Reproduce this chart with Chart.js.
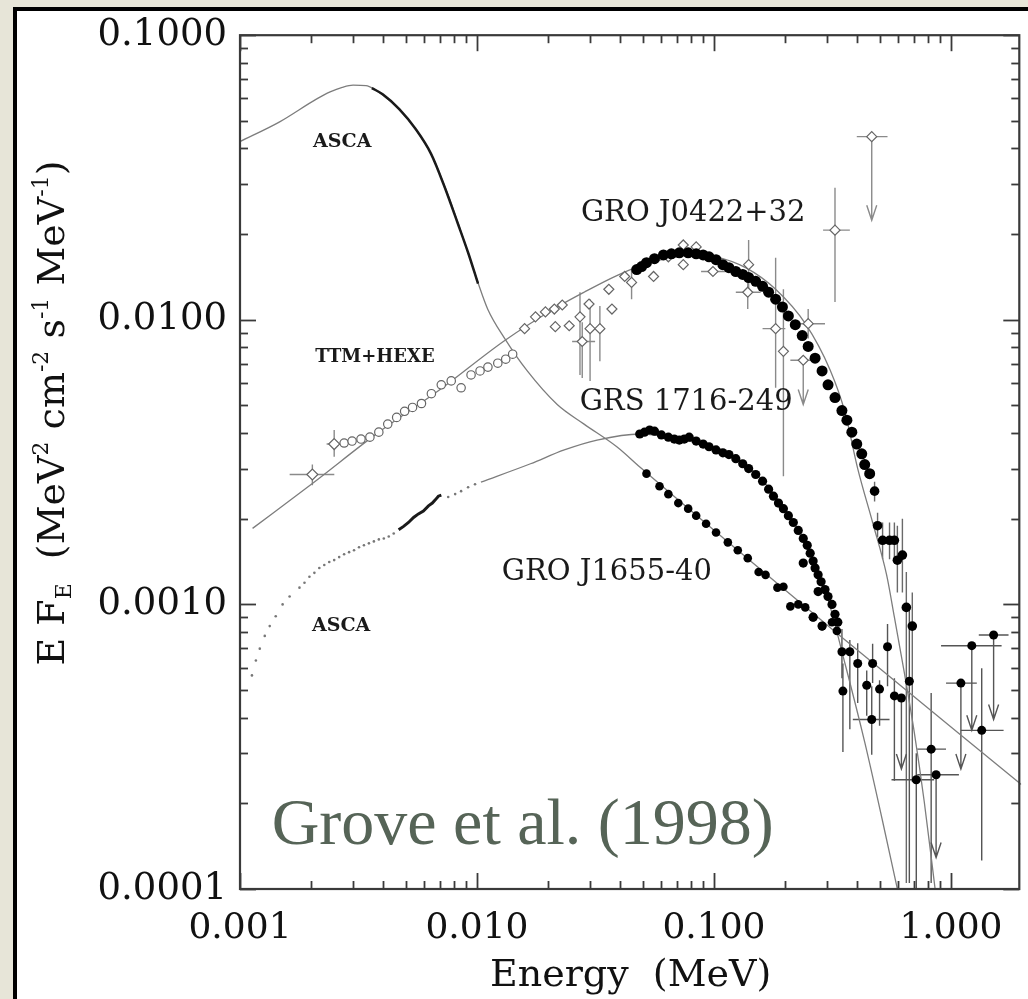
<!DOCTYPE html>
<html><head><meta charset="utf-8">
<script src="https://cdn.jsdelivr.net/npm/chart.js@4.4.0/dist/chart.umd.min.js"></script>
<style>
html,body{margin:0;padding:0;width:1028px;height:999px;overflow:hidden;background:#e7e5d8;}
#frame{position:absolute;left:13px;top:7px;width:1100px;height:1100px;border-left:4px solid #000;border-top:4px solid #000;background:#fff;}
#wrap{position:absolute;left:0;top:0;width:1028px;height:999px;}
</style></head><body>
<div id="frame"></div>
<div id="wrap"><canvas id="c" width="1028" height="999"></canvas></div>
<script>
// ---------- axis ticks ----------
const xTickValues = [0.001, 0.01, 0.1, 1];
const xTickLabels = ['0.001', '0.010', '0.100', '1.000'];
const yTickValues = [0.0001, 0.001, 0.01, 0.1];
const yTickLabels = ['0.0001', '0.0010', '0.0100', '0.1000'];

// ---------- model curves ----------
const modelJ1655E = [0.001,0.00147,0.0021,0.0024,0.0027,0.0030,0.0034,0.0037,0.00396,0.00467,0.0055,0.00642,0.00735,0.00833,0.00917,0.0101,0.0111,0.0131,0.0163,0.0218,0.0283,0.0389,0.0495,0.333,1.98];
const modelJ1655F = [0.0423,0.0496,0.0596,0.0632,0.0656,0.0668,0.0665,0.0645,0.0620,0.0550,0.0469,0.0381,0.0291,0.0218,0.0172,0.0135,0.0109,0.00859,0.00661,0.00504,0.0043,0.00358,0.0030,0.000787,0.000233];
const modelJ0422E = [0.00113,0.00202,0.00385,0.00687,0.0131,0.0218,0.0283,0.0389,0.0519,0.0693,0.0841,0.102,0.136,0.182,0.243,0.309,0.357,0.404,0.467,0.535,0.577,0.636,0.700,0.771,0.857];
const modelJ0422F = [0.00185,0.00266,0.00403,0.00563,0.00846,0.01109,0.0125,0.0143,0.01575,0.01665,0.0169,0.01665,0.01525,0.0128,0.00969,0.00666,0.00473,0.0030,0.00194,0.00127,0.000902,0.000573,0.000355,0.000203,0.0001];
const modelGrsE = [0.01039,0.01682,0.02335,0.0321,0.0486,0.0714,0.1122,0.1543,0.2203,0.294,0.357,0.4325,0.5145,0.594];
const modelGrsF = [0.00269,0.00312,0.00349,0.00378,0.00397,0.00381,0.00344,0.00282,0.00189,0.001127,0.00062,0.000328,0.000173,0.0001];

// ---------- ASCA data ----------
const ascaJ1655E = [0.0036,0.0040,0.0047,0.0055,0.0064,0.0073,0.0083,0.0092,0.0101];
const ascaJ1655F = [0.0652,0.0620,0.0550,0.0469,0.0383,0.0293,0.0218,0.0171,0.0134];
const ascaGrsE = [0.001123,0.001167,0.001212,0.001272,0.001335,0.001415,0.001513,0.001619,0.001782,0.001871,0.001963,0.00206,0.002161,0.002268,0.00238,0.002497,0.002621,0.00275,0.002886,0.003028,0.003178,0.003334,0.003499,0.003672,0.003853,0.004044,0.004243,0.004453,0.00756,0.00809,0.00857,0.00917,0.00981];
const ascaGrsF = [0.000563,0.000635,0.000699,0.000775,0.000839,0.000909,0.001,0.001066,0.001145,0.001192,0.00125,0.001291,0.001343,0.001375,0.001409,0.001431,0.001466,0.001501,0.001526,0.00155,0.001588,0.001613,0.001639,0.001665,0.001692,0.001705,0.001733,0.001774,0.002384,0.002441,0.0025,0.002581,0.002643];
const ascaGrsDenseE = [0.00467,0.0049,0.00514,0.0054,0.00566,0.00594,0.00624,0.00648,0.00667,0.00687,0.00707];
const ascaGrsDenseF = [0.00183,0.00188,0.00194,0.00202,0.00208,0.00213,0.00222,0.00227,0.00233,0.0024,0.00242];

// ---------- GRO J0422+32 : TTM+HEXE (open) ----------
const ttmE = [0.00202,0.002497,0.00275,0.002971,0.00324,0.003533,0.003853,0.004202,0.004582,0.00495,0.005346,0.005831,0.00642,0.007068,0.007785,0.00857,0.009439,0.0103,0.01112,0.01224,0.01322,0.01414];
const ttmF = [0.00286,0.00366,0.00369,0.00375,0.00381,0.00387,0.00403,0.0043,0.00454,0.00477,0.00492,0.00508,0.0055,0.00591,0.0061,0.00577,0.0064,0.00661,0.00682,0.00704,0.00727,0.00757];
const ttmXLo = [0.00162,0.00232,null,null,null,null,null,null,null,null,null,null,null,null,null,null,null,null,null,null,null,null];
const ttmXHi = [0.0025,0.00268,null,null,null,null,null,null,null,null,null,null,null,null,null,null,null,null,null,null,null,null];
const ttmYLo = [0.00262,0.0033,null,null,null,null,null,null,null,null,null,null,null,null,null,null,null,null,null,null,null,null];
const ttmYHi = [0.0031,0.0041,null,null,null,null,null,null,null,null,null,null,null,null,null,null,null,null,null,null,null,null];

// ---------- GRO J0422+32 : higher energy (open diamonds) ----------
const osseE = [0.01588,0.01765,0.01944,0.0212,0.0229,0.0214,0.0245,0.0272,0.0297,0.0300,0.0330,0.0278,0.0360,0.0371,0.0420,0.0449,0.0556,0.0642,0.0742,0.0841,0.0742,0.0990,0.140,0.1388,0.182,0.1963,0.2497,0.238,0.324,0.463];
const osseF = [0.00931,0.01024,0.01066,0.01091,0.01127,0.00946,0.00953,0.01024,0.01136,0.00931,0.00931,0.00839,0.0128,0.01091,0.0142,0.01353,0.0142,0.01665,0.01832,0.01803,0.01562,0.01478,0.01562,0.0125,0.00931,0.00775,0.00969,0.00721,0.02065,0.044];
const osseXLo = [null,null,null,null,null,null,null,null,null,null,null,0.0252,null,null,null,null,null,null,null,null,null,0.0882,null,0.1236,0.1603,null,0.2203,0.21,0.2886,0.4004];
const osseXHi = [null,null,null,null,null,null,null,null,null,null,null,0.0315,null,null,null,null,null,null,null,null,null,0.1122,null,0.1573,0.200,null,0.294,0.267,0.3743,0.5398];
const osseYLo = [null,null,null,null,null,null,null,0.0064,null,0.0061,0.00715,0.00625,null,null,null,0.01182,null,null,null,null,null,null,0.0125,0.01091,0.00577,0.00282,0.0086,0.00504,0.01154,0.02236];
const osseYHi = [null,null,null,null,null,null,null,0.0125,null,0.01182,0.01118,0.0098,null,null,null,0.01502,null,null,null,null,null,null,0.01907,0.01386,0.01652,0.0128,0.01091,null,0.0291,null];
const osseUL  = [0,0,0,0,0,0,0,0,0,0,0,0,0,0,0,0,0,0,0,0,0,0,0,0,0,0,0,1,0,1];

// ---------- GRO J0422+32 : filled ----------
const j0422E = [0.0472,0.0495,0.0519,0.0561,0.0612,0.0661,0.0714,0.0778,0.0841,0.0900,0.0953,0.102,0.109,0.1156,0.1236,0.1322,0.140,0.150,0.1603,0.170,0.182,0.1944,0.206,0.2203,0.2357,0.2497,0.267,0.2858,0.3028,0.324,0.3466,0.3637,0.3816,0.4004,0.4202,0.4325,0.4538];
const j0422F = [0.01502,0.01538,0.01588,0.01639,0.0169,0.01706,0.01719,0.01719,0.01706,0.0169,0.01665,0.01626,0.01562,0.01525,0.01478,0.01443,0.01408,0.01365,0.01311,0.0125,0.01182,0.01109,0.01032,0.00961,0.0088,0.00806,0.00733,0.00661,0.00591,0.00533,0.0048,0.00444,0.00403,0.00366,0.00338,0.0031,0.00288];
const j0422TailE = [0.476,0.490,0.5145,0.5504,0.577,0.594,0.6237,0.648,0.6866];
const j0422TailF = [0.0025,0.00189,0.00168,0.00168,0.00168,0.00143,0.00149,0.000976,0.000839];
const j0422TailYLo = [0.0023,0.00172,0.00144,0.00144,0.00144,0.0011,0.0011,0.000105,0.000238];
const j0422TailYHi = [0.0027,0.0021,0.00194,0.00194,0.00194,0.00189,0.002,0.0013,0.0011];

// ---------- GRS 1716-249 : filled ----------
const grsE = [0.0486,0.0509,0.0535,0.0561,0.0600,0.0642,0.0680,0.0714,0.0749,0.0786,0.0841,0.0900,0.0953,0.102,0.109,0.1156,0.1236,0.1322,0.140,0.150,0.1603,0.170,0.1782,0.1871,0.1963,0.206,0.2161,0.2268,0.238,0.2474,0.2546,0.262,0.267,0.275,0.2831,0.294,0.3028,0.3147,0.324,0.333,0.238,0.262,0.2858,0.275];
const grsF = [0.00397,0.00403,0.0041,0.00406,0.00394,0.00387,0.00381,0.00378,0.00381,0.00387,0.00375,0.00366,0.00358,0.00349,0.00341,0.00336,0.00325,0.00312,0.003,0.00286,0.00271,0.00254,0.0024,0.00227,0.00217,0.00205,0.00194,0.00182,0.001705,0.001613,0.001514,0.00142,0.001343,0.00127,0.001201,0.001127,0.001066,0.001,0.000923,0.000866,0.001397,0.000902,0.000839,0.001109];

// ---------- GRO J1655-40 : filled ----------
const j1655E = [0.0519,0.0589,0.0642,0.0707,0.0778,0.0841,0.0926,0.102,0.1144,0.126,0.1388,0.1543,0.165,0.1852,0.1963,0.210,0.2268,0.2427,0.262,0.2858,0.3147,0.330];
const j1655F = [0.00288,0.0026,0.00244,0.00227,0.00217,0.00205,0.00192,0.00179,0.001652,0.00155,0.001454,0.0013,0.00127,0.001145,0.001154,0.000984,0.001,0.000976,0.000902,0.000839,0.000866,0.000807];
const j1655HiE = [0.3466,0.3499,0.3743,0.404,0.467,0.441,0.4996,0.463,0.5398,0.577,0.6177,0.6672,0.8248,0.7137,0.8653,1.101,1.224,1.513,1.348];
const j1655HiF = [6.82e-4,4.96e-4,6.82e-4,6.20e-4,6.20e-4,5.20e-4,5.04e-4,3.94e-4,7.10e-4,4.77e-4,4.69e-4,5.37e-4,3.10e-4,2.42e-4,2.52e-4,5.29e-4,7.16e-4,7.81e-4,3.61e-4];
const j1655HiXLo = [null,null,null,null,null,null,null,0.3853,null,null,null,null,0.7205,0.561,0.7205,0.953,0.908,1.31,1.101];
const j1655HiXHi = [null,null,null,null,null,null,null,0.5504,null,null,null,null,0.953,0.849,1.08,1.285,1.635,1.749,1.667];
const j1655HiYLo = [5.5e-4,3.03e-4,3.64e-4,4.5e-4,5.29e-4,4.06e-4,3.75e-4,2.96e-4,5.16e-4,2.4e-4,2.64e-4,1.05e-4,1.05e-4,9e-5,1.29e-4,2.64e-4,3.61e-4,3.94e-4,1.26e-4];
const j1655HiYHi = [8.2e-4,6.2e-4,7.5e-4,7.3e-4,7.27e-4,5.86e-4,5.41e-4,5.16e-4,8.53e-4,5.5e-4,null,1.0e-3,4.88e-4,3.0e-4,null,null,null,null,5.96e-4];
const j1655HiUL = [0,0,0,0,0,0,0,0,0,0,1,0,0,0,1,1,1,1,0];

// ---------- text ----------
const annotations = [
  {text:'ASCA', e:2.70e-3, f:0.0420, font:'bold 19px "DejaVu Serif"'},
  {text:'TTM+HEXE', e:3.71e-3, f:7.39e-3, font:'bold 18px "DejaVu Serif"'},
  {text:'GRO J0422+32', e:0.0817, f:0.02364, font:'29px "DejaVu Serif"'},
  {text:'GRS 1716-249', e:0.0763, f:5.12e-3, font:'29px "DejaVu Serif"'},
  {text:'GRO J1655-40', e:0.0353, f:1.29e-3, font:'29px "DejaVu Serif"'},
  {text:'ASCA', e:2.67e-3, f:8.39e-4, font:'bold 19px "DejaVu Serif"'}
];
const creditText = 'Grove et al. (1998)';
const creditAnchor = {e:1.36e-3, f:1.443e-4};
const xTitle = 'Energy  (MeV)';
const yTitleParts = [['E F',0],['E',-1],['  (MeV',0],['2',1],[' cm',0],['-2',1],[' s',0],['-1',1],[' MeV',0],['-1',1],[')',0]];

// ---------- helpers ----------
function pts(E, F, xLo, xHi, yLo, yHi, ul){
  return E.map((e,i)=>({x:e, y:F[i],
    xLo: xLo ? xLo[i] : null, xHi: xHi ? xHi[i] : null,
    yLo: yLo ? yLo[i] : null, yHi: yHi ? yHi[i] : null,
    ul: ul ? ul[i] : 0}));
}

const errorBars = {
  id:'errorBars',
  beforeDatasetsDraw(chart){
    const {ctx, chartArea:a, scales:{x, y}} = chart;
    ctx.save();
    ctx.beginPath(); ctx.rect(a.left, a.top, a.right-a.left, a.bottom-a.top); ctx.clip();
    chart.data.datasets.forEach(ds=>{
      if(!ds.errColor) return;
      ctx.strokeStyle = ds.errColor; ctx.lineWidth = 1.4;
      ds.data.forEach(p=>{
        const px = x.getPixelForValue(p.x), py = y.getPixelForValue(p.y);
        ctx.beginPath();
        if(p.xLo != null){ ctx.moveTo(x.getPixelForValue(p.xLo), py); ctx.lineTo(x.getPixelForValue(p.xHi), py); }
        if(p.yLo != null){
          const top = p.yHi != null ? y.getPixelForValue(p.yHi) : py;
          const bot = y.getPixelForValue(p.yLo);
          ctx.moveTo(px, top); ctx.lineTo(px, bot);
          if(p.ul){ ctx.moveTo(px-5, bot-15); ctx.lineTo(px, bot); ctx.lineTo(px+5, bot-15); }
        }
        ctx.stroke();
      });
    });
    ctx.restore();
  }
};

const frameTicks = {
  id:'frameTicks',
  afterDraw(chart){
    const {ctx, chartArea:a, scales:{x, y}} = chart;
    ctx.save();
    ctx.strokeStyle = '#3a3a3a';
    ctx.lineWidth = 2.2;
    ctx.strokeRect(a.left, a.top, a.right-a.left-2, a.bottom-a.top);
    ctx.lineWidth = 1.8;
    const seg = (x1,y1,x2,y2)=>{ctx.beginPath();ctx.moveTo(x1,y1);ctx.lineTo(x2,y2);ctx.stroke();};
    for(let d=-3; d<=0; d++) for(let k=1;k<10;k++){
      const v = k*Math.pow(10,d);
      if(v < x.min*0.999 || v > x.max) continue;
      const px = Math.round(x.getPixelForValue(v))+0.5;
      const L = k===1 ? 16 : 8;
      seg(px, a.bottom, px, a.bottom-L); seg(px, a.top, px, a.top+L);
    }
    for(let d=-4; d<=-1; d++) for(let k=1;k<10;k++){
      const v = k*Math.pow(10,d);
      if(v < y.min*0.999 || v > y.max*1.001) continue;
      const py = Math.round(y.getPixelForValue(v))+0.5;
      const L = k===1 ? 16 : 8;
      seg(a.left, py, a.left+L, py); seg(a.right-2, py, a.right-2-L, py);
    }
    ctx.restore();
  }
};

const texts = {
  id:'texts',
  afterDatasetsDraw(chart){
    const {ctx, scales:{x, y}} = chart;
    ctx.save();
    ctx.fillStyle = '#1a1a1a';
    ctx.textAlign = 'center'; ctx.textBaseline = 'middle';
    annotations.forEach(an=>{
      ctx.font = an.font;
      ctx.fillText(an.text, x.getPixelForValue(an.e), y.getPixelForValue(an.f));
    });
    ctx.font = '66px "Liberation Serif"';
    ctx.fillStyle = '#566457';
    ctx.textAlign = 'left'; ctx.textBaseline = 'alphabetic';
    ctx.fillText(creditText, x.getPixelForValue(creditAnchor.e), y.getPixelForValue(creditAnchor.f));
    ctx.restore();
    // rotated y title with sub/superscripts
    ctx.save();
    ctx.fillStyle = '#111';
    ctx.translate(64, 413);
    ctx.rotate(-Math.PI/2);
    const big = 38, small = 22;
    let total = 0;
    yTitleParts.forEach(([t,m])=>{ ctx.font = (m? small: big)+'px "DejaVu Serif"'; total += ctx.measureText(t).width; });
    let cx = -total/2;
    ctx.textAlign = 'left'; ctx.textBaseline = 'alphabetic';
    yTitleParts.forEach(([t,m])=>{
      ctx.font = (m? small: big)+'px "DejaVu Serif"';
      const dy = m===1 ? -16 : (m===-1 ? 7 : 0);
      ctx.fillText(t, cx, dy);
      cx += ctx.measureText(t).width;
    });
    ctx.restore();
  }
};

const GRAY = '#7d7d7d';
const lineDs = (E,F,order)=>({data:pts(E,F), showLine:true, borderColor:GRAY, borderWidth:1.3, pointRadius:0, order, cubicInterpolationMode:'monotone'});

new Chart(document.getElementById('c'), {
  type:'scatter',
  data:{datasets:[
    lineDs(modelJ1655E, modelJ1655F, 6),
    lineDs(modelJ0422E, modelJ0422F, 6),
    lineDs(modelGrsE, modelGrsF, 6),
    {data:pts(ascaJ1655E, ascaJ1655F), showLine:true, borderColor:'#1a1a1a', borderWidth:2.5, pointRadius:0, order:5, cubicInterpolationMode:'monotone'},
    {data:pts(ascaGrsE, ascaGrsF), showLine:false, pointRadius:1.3, pointBackgroundColor:'#777', pointBorderWidth:0, order:5},
    {data:pts(ascaGrsDenseE, ascaGrsDenseF), showLine:true, borderColor:'#1a1a1a', borderWidth:3, pointRadius:0, order:5},
    {data:pts(ttmE, ttmF, ttmXLo, ttmXHi, ttmYLo, ttmYHi), errColor:'#8a8a8a', showLine:false,
      pointStyle:(c)=> c.dataIndex<2 ? 'rectRot' : 'circle', pointRadius:(c)=> c.dataIndex<2 ? 5.5 : 4.2,
      pointBackgroundColor:'#fff', pointBorderColor:'#666', pointBorderWidth:1.2, order:3},
    {data:pts(osseE, osseF, osseXLo, osseXHi, osseYLo, osseYHi, osseUL), errColor:'#8a8a8a', showLine:false,
      pointStyle:'rectRot', pointRadius:5, pointBackgroundColor:'#fff', pointBorderColor:'#666', pointBorderWidth:1.2, order:3},
    {data:pts(j0422E, j0422F), showLine:false, pointRadius:5.5, pointBackgroundColor:'#000', pointBorderWidth:0, order:1},
    {data:pts(j0422TailE, j0422TailF, null, null, j0422TailYLo, j0422TailYHi), errColor:'#6a6a6a', showLine:false, pointRadius:4.8, pointBackgroundColor:'#000', pointBorderWidth:0, order:1},
    {data:pts(grsE, grsF), showLine:false, pointRadius:4.6, pointBackgroundColor:'#000', pointBorderWidth:0, order:1},
    {data:pts(j1655E, j1655F), showLine:false, pointRadius:4.3, pointBackgroundColor:'#000', pointBorderWidth:0, order:1},
    {data:pts(j1655HiE, j1655HiF, j1655HiXLo, j1655HiXHi, j1655HiYLo, j1655HiYHi, j1655HiUL), errColor:'#555', showLine:false, pointRadius:4.5, pointBackgroundColor:'#000', pointBorderWidth:0, order:1}
  ]},
  options:{
    responsive:false, animation:false, devicePixelRatio:1,
    layout:{padding:{top:22, right:0, bottom:0, left:0}},
    plugins:{legend:{display:false}, tooltip:{enabled:false}},
    scales:{
      x:{type:'logarithmic', position:'bottom', min:0.001, max:1.98,
        grid:{display:false, drawTicks:false}, border:{display:false},
        afterBuildTicks:(s)=>{ s.ticks = xTickValues.map(v=>({value:v})); },
        afterFit:(s)=>{ s.height = 110; },
        ticks:{autoSkip:false, maxRotation:0, padding:18, color:'#111',
          font:{family:'"DejaVu Serif"', size:36},
          callback:(v,i)=> xTickLabels[i]},
        title:{display:true, text:xTitle, color:'#111', font:{family:'"DejaVu Serif"', size:38}, padding:{top:0,bottom:0}}
      },
      y:{type:'logarithmic', position:'left', min:0.0001, max:0.1,
        grid:{display:false, drawTicks:false}, border:{display:false},
        afterBuildTicks:(s)=>{ s.ticks = yTickValues.map(v=>({value:v})); },
        afterFit:(s)=>{ s.width = 240; },
        ticks:{autoSkip:false, padding:13, color:'#111',
          font:{family:'"DejaVu Serif"', size:37},
          callback:(v,i)=> yTickLabels[i]}
      }
    }
  },
  plugins:[errorBars, texts, frameTicks]
});
</script></body></html>
